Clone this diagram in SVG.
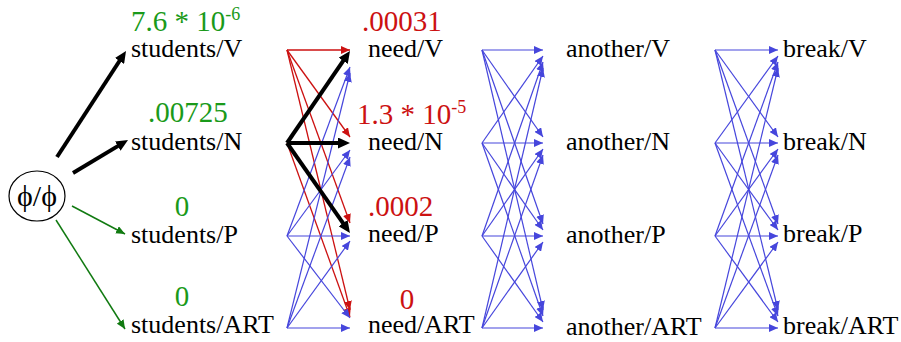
<svg xmlns="http://www.w3.org/2000/svg" width="901" height="342" viewBox="0 0 901 342">
<style>
  .lbl { font-family: "Liberation Serif", "Times New Roman", serif; font-size: 26px; fill: #000; }
  .gv { font-family: "Liberation Serif", "Times New Roman", serif; font-size: 29px; fill: #1a9a1a; }
  .rv { font-family: "Liberation Serif", "Times New Roman", serif; font-size: 29px; fill: #cc1111; }
  .sup { font-size: 18px; }
  .blue { stroke: #4646dc; stroke-width: 1.2; fill: none; marker-end: url(#hb); }
  .red { stroke: #cc1111; stroke-width: 1.3; fill: none; marker-end: url(#hr); }
  .green { stroke: #117a11; stroke-width: 1.5; fill: none; marker-end: url(#hg); }
  .thick { stroke: #000; stroke-width: 4; fill: none; marker-end: url(#hk); }
</style>
<defs>
  <marker id="hb" markerUnits="userSpaceOnUse" markerWidth="10" markerHeight="8" refX="9" refY="4" orient="auto"><path d="M0,0 L9,4 L0,8 z" fill="#4646dc"/></marker>
  <marker id="hr" markerUnits="userSpaceOnUse" markerWidth="10" markerHeight="8" refX="9" refY="4" orient="auto"><path d="M0,0 L9,4 L0,8 z" fill="#cc1111"/></marker>
  <marker id="hg" markerUnits="userSpaceOnUse" markerWidth="10" markerHeight="8" refX="9" refY="4" orient="auto"><path d="M0,0 L9,4 L0,8 z" fill="#117a11"/></marker>
  <marker id="hk" markerUnits="userSpaceOnUse" markerWidth="13" markerHeight="11" refX="3" refY="5.5" orient="auto"><path d="M0,0 L12,5.5 L0,11 z" fill="#000"/></marker>
</defs>

<g id="connectors">
  <!-- start node to students -->
  <line class="thick" x1="57" y1="157" x2="121.1" y2="58.5"/>
  <line class="thick" x1="73" y1="173" x2="120.3" y2="144.6"/>
  <line class="green" x1="72" y1="206" x2="125" y2="234"/>
  <line class="green" x1="56" y1="220" x2="125" y2="329"/>

  <!-- students -> need -->
  <line class="red" x1="287" y1="50" x2="350" y2="50"/>
  <line class="red" x1="287" y1="50" x2="350" y2="137"/>
  <line class="red" x1="287" y1="50" x2="350" y2="223"/>
  <line class="red" x1="287" y1="50" x2="350" y2="310"/>
  <line class="red" x1="287" y1="143" x2="350" y2="317"/>
  <line class="blue" x1="287" y1="236" x2="350" y2="67"/>
  <line class="blue" x1="287" y1="328" x2="350" y2="73"/>
  <line class="blue" x1="287" y1="236" x2="350" y2="150"/>
  <line class="blue" x1="287" y1="328" x2="350" y2="157"/>
  <line class="blue" x1="287" y1="236" x2="350" y2="236"/>
  <line class="blue" x1="287" y1="328" x2="350" y2="241"/>
  <line class="blue" x1="287" y1="236" x2="350" y2="318"/>
  <line class="blue" x1="287" y1="328" x2="350" y2="328"/>
  <line class="thick" x1="287" y1="143" x2="344.9" y2="58.4"/>
  <line class="thick" x1="287" y1="143" x2="341" y2="143"/>
  <line class="thick" x1="287" y1="143" x2="344.8" y2="225.6"/>

  <!-- need -> another -->
  <line class="blue" x1="482" y1="50" x2="543" y2="50"/>
  <line class="blue" x1="482" y1="143" x2="543" y2="56"/>
  <line class="blue" x1="482" y1="236" x2="543" y2="62"/>
  <line class="blue" x1="482" y1="328" x2="543" y2="68"/>
  <line class="blue" x1="482" y1="50" x2="543" y2="137"/>
  <line class="blue" x1="482" y1="143" x2="543" y2="143"/>
  <line class="blue" x1="482" y1="236" x2="543" y2="149"/>
  <line class="blue" x1="482" y1="328" x2="543" y2="155"/>
  <line class="blue" x1="482" y1="50" x2="543" y2="224"/>
  <line class="blue" x1="482" y1="143" x2="543" y2="230"/>
  <line class="blue" x1="482" y1="236" x2="543" y2="236"/>
  <line class="blue" x1="482" y1="328" x2="543" y2="242"/>
  <line class="blue" x1="482" y1="50" x2="543" y2="310"/>
  <line class="blue" x1="482" y1="143" x2="543" y2="316"/>
  <line class="blue" x1="482" y1="236" x2="543" y2="322"/>
  <line class="blue" x1="482" y1="328" x2="543" y2="328"/>

  <!-- another -> break -->
  <line class="blue" x1="715" y1="50" x2="778" y2="50"/>
  <line class="blue" x1="715" y1="143" x2="778" y2="56"/>
  <line class="blue" x1="715" y1="236" x2="778" y2="62"/>
  <line class="blue" x1="715" y1="328" x2="778" y2="68"/>
  <line class="blue" x1="715" y1="50" x2="778" y2="137"/>
  <line class="blue" x1="715" y1="143" x2="778" y2="143"/>
  <line class="blue" x1="715" y1="236" x2="778" y2="149"/>
  <line class="blue" x1="715" y1="328" x2="778" y2="155"/>
  <line class="blue" x1="715" y1="50" x2="778" y2="224"/>
  <line class="blue" x1="715" y1="143" x2="778" y2="230"/>
  <line class="blue" x1="715" y1="236" x2="778" y2="236"/>
  <line class="blue" x1="715" y1="328" x2="778" y2="242"/>
  <line class="blue" x1="715" y1="50" x2="778" y2="310"/>
  <line class="blue" x1="715" y1="143" x2="778" y2="316"/>
  <line class="blue" x1="715" y1="236" x2="778" y2="322"/>
  <line class="blue" x1="715" y1="328" x2="778" y2="328"/>
</g>

<g id="start">
  <ellipse cx="37" cy="196" rx="28" ry="25" fill="#fff" stroke="#000" stroke-width="1.2"/>
  <text x="37" y="206" text-anchor="middle" font-family="Liberation Serif, serif" font-size="30">ϕ/ϕ</text>
</g>

<g id="students-V"><text class="gv" x="131" y="31">7.6 * 10<tspan class="sup" dy="-11">-6</tspan></text><text class="lbl" x="131" y="57">students/V</text></g>
<g id="students-N"><text class="gv" x="148" y="122">.00725</text><text class="lbl" x="131" y="150">students/N</text></g>
<g id="students-P"><text class="gv" x="182" y="216" text-anchor="middle">0</text><text class="lbl" x="131" y="243">students/P</text></g>
<g id="students-ART"><text class="gv" x="182" y="306" text-anchor="middle">0</text><text class="lbl" x="131" y="333">students/ART</text></g>

<g id="need-V"><text class="rv" x="362" y="31">.00031</text><text class="lbl" x="368" y="57">need/V</text></g>
<g id="need-N"><text class="rv" x="357" y="124">1.3 * 10<tspan class="sup" dy="-11">-5</tspan></text><text class="lbl" x="368" y="150">need/N</text></g>
<g id="need-P"><text class="rv" x="368" y="216">.0002</text><text class="lbl" x="368" y="242">need/P</text></g>
<g id="need-ART"><text class="rv" x="407" y="309" text-anchor="middle">0</text><text class="lbl" x="368" y="333">need/ART</text></g>

<g id="another-V"><text class="lbl" x="566" y="57">another/V</text></g>
<g id="another-N"><text class="lbl" x="566" y="150">another/N</text></g>
<g id="another-P"><text class="lbl" x="566" y="243">another/P</text></g>
<g id="another-ART"><text class="lbl" x="566" y="335">another/ART</text></g>

<g id="break-V"><text class="lbl" x="783" y="57">break/V</text></g>
<g id="break-N"><text class="lbl" x="783" y="150">break/N</text></g>
<g id="break-P"><text class="lbl" x="783" y="242">break/P</text></g>
<g id="break-ART"><text class="lbl" x="783" y="334">break/ART</text></g>
</svg>
